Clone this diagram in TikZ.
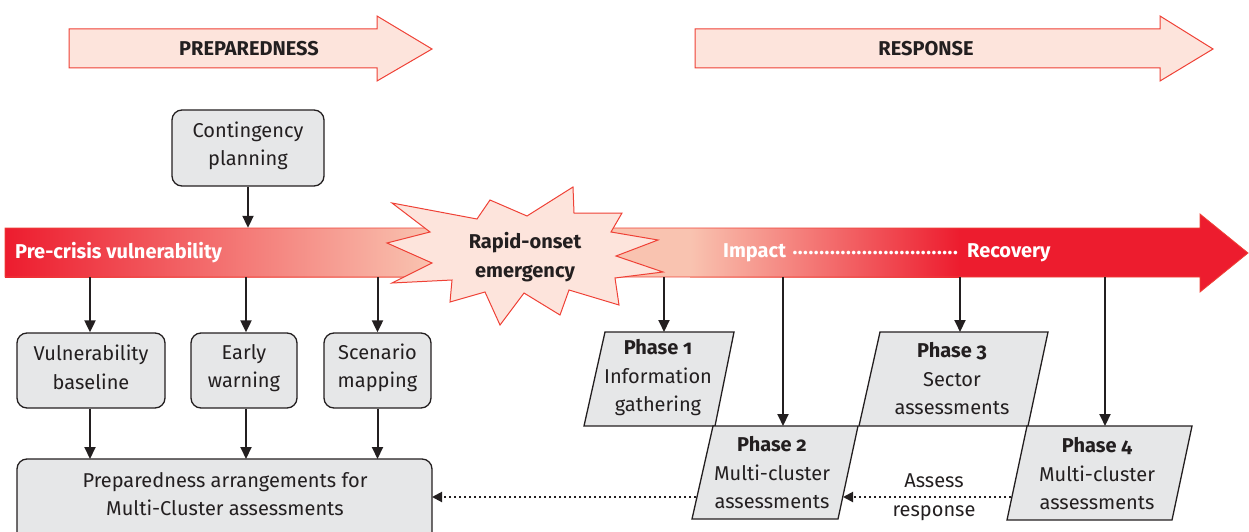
\documentclass[tikz,border=0pt]{standalone}
\usepackage{fontspec}
\setmainfont{Fira Sans}[Numbers=OldStyle]
\usetikzlibrary{arrows.meta}
\definecolor{myred}{HTML}{ED1C2E}
\definecolor{pinkfill}{HTML}{FDE4DC}
\definecolor{pale}{HTML}{F9C3B0}
\definecolor{boxgrey}{HTML}{E6E7E8}
\definecolor{ink}{HTML}{231F20}
\definecolor{edge}{HTML}{EF4136}
\begin{document}
\begin{tikzpicture}[x=1pt,y=-1pt,
 font=\fontsize{20}{28.5}\selectfont,
 txt/.style={text=ink, align=center, inner sep=0pt},
 rbox/.style={draw=ink, line width=1.3pt, fill=boxgrey, rounded corners=10pt, inner sep=0pt},
 arr/.style={draw=ink, line width=2pt, -{Triangle[width=11pt,length=12pt]}},
 dotarr/.style={draw=ink, line width=2pt, dash pattern=on 2pt off 3pt, -{Triangle[width=10pt,length=10pt]}},
 banner/.style={draw=edge, line width=1pt, fill=pinkfill},
 bandtext/.style={text=white, font=\fontsize{20}{24}\selectfont\bfseries, inner sep=0pt, anchor=west},
 para/.style={draw=ink, line width=1.3pt, fill=boxgrey},
 head/.style={text=ink, font=\fontsize{20}{24}\selectfont\bfseries, inner sep=0pt},
]
\useasboundingbox (0,0) rectangle (1249,532);

% top banners
\draw[banner] (69,29) -- (377,29) -- (377,16) -- (432,49) -- (377,81) -- (377,68) -- (69,68) -- cycle;
\node[head] (prep) at (249,49) {PREPAREDNESS};
\draw[banner] (695,29) -- (1160,29) -- (1160,16) -- (1213,49) -- (1160,81) -- (1160,68) -- (695,68) -- cycle;
\node[head] (resp) at (926,49) {RESPONSE};

% main band
\shade[left color=myred, right color=pale] (5,228) rectangle (430,277);
\fill[pale] (429,228) rectangle (691,277);
\shade[left color=pale, right color=myred] (690,228) rectangle (960,277);
\fill[myred] (959,228) -- (1200,228) -- (1200,214) -- (1248,253) -- (1200,292) -- (1200,277) -- (959,277) -- cycle;
\draw[edge, line width=0.8pt] (5,228) -- (1200,228) -- (1200,214) -- (1248,253) -- (1200,292) -- (1200,277) -- (5,277) -- cycle;
\node[inner sep=0pt, minimum width=1195pt, minimum height=49pt] (band) at (602.5,252.5) {};

\node[bandtext] (pre) at (15,253) {Pre-crisis vulnerability};
\node[bandtext] (imp) at (723,253) {Impact};
\node[bandtext] (dots) at (792,253) {\hbox to 166pt{\xleaders\hbox to 5.2pt{\hss.\hss}\hfill}};
\node[bandtext] (rec) at (967,253) {Recovery};

% starburst
\draw[edge, line width=1pt, fill=pinkfill] (392,203) -- (477,219) -- (490,200) -- (527,216) -- (573,187) -- (574,213) -- (622,213) -- (611,232) -- (658,240) -- (616,256) -- (663,272) -- (615,278) -- (619,305) -- (569,290) -- (560,315) -- (524,293) -- (500,325) -- (485,292) -- (450,302) -- (452,280) -- (392,283) -- (432,263) -- (387,243) -- (430,232) -- cycle;
\node[head, align=center, font=\fontsize{20}{28.5}\selectfont\bfseries] (rapid) at (525,257) {Rapid-onset\\emergency};

% preparedness boxes
\node[rbox, minimum width=152pt, minimum height=76pt] (cp) at (248,148) {};
\node[txt] (cpt) at (248,146) {Contingency\\planning};
\node[rbox, minimum width=148pt, minimum height=75pt] (vb) at (91,370.5) {};
\node[txt] (vbt) at (91,367.5) {Vulnerability\\baseline};
\node[rbox, minimum width=106pt, minimum height=75pt] (ew) at (244,370.5) {};
\node[txt] (ewt) at (244,368) {Early\\warning};
\node[rbox, minimum width=107pt, minimum height=75pt] (sm) at (377.5,370.5) {};
\node[txt] (smt) at (377.5,368) {Scenario\\mapping};
\draw[draw=ink, line width=1.3pt, fill=boxgrey, rounded corners=10pt] (17,459) rectangle (432,560);
\node[txt] (pa) at (225,494) {Preparedness arrangements for\\Multi-Cluster assessments};
\coordinate (pain) at (432,497);

\draw[arr] (cp.south) -- (cp.south |- band.north);
\draw[arr] ([xshift=-1pt]vb.north |- band.south) -- ([xshift=-1pt]vb.north);
\draw[arr] ([xshift=2pt]ew.north |- band.south) -- ([xshift=2pt]ew.north);
\draw[arr] (sm.north |- band.south) -- (sm.north);
\draw[arr] ([xshift=-1pt]vb.south) -- ([xshift=-1pt]vb.south |- 0,459);
\draw[arr] ([xshift=2pt]ew.south) -- ([xshift=2pt]ew.south |- 0,459);
\draw[arr] (sm.south) -- (sm.south |- 0,459);

% phases
\draw[para] (605,332) -- (734,332) -- (715,426) -- (584,426) -- cycle;
\node[txt] (p1) at (658,378) {\textbf{Phase 1}\\Information\\gathering};
\draw[para] (880,332) -- (1048,332) -- (1028,426) -- (859,426) -- cycle;
\node[txt] (p3) at (952,379) {\textbf{Phase 3}\\Sector\\assessments};
\draw[para] (713,426) -- (858,426) -- (838,519) -- (692,519) -- cycle;
\node[txt] (p2) at (772,473) {\textbf{Phase 2}\\Multi-cluster\\assessments};
\draw[para] (1027,426) -- (1192,426) -- (1172,520) -- (1007,520) -- cycle;
\node[txt] (p4) at (1097,474) {\textbf{Phase 4}\\Multi-cluster\\assessments};

\coordinate (p1in) at (664,332);
\coordinate (p2in) at (783,426);
\coordinate (p3in) at (960,332);
\coordinate (p4in) at (1105,426);
\draw[arr] (p1in |- band.south) -- (p1in);
\draw[arr] (p2in |- band.south) -- (p2in);
\draw[arr] (p3in |- band.south) -- (p3in);
\draw[arr] (p4in |- band.south) -- (p4in);

\coordinate (p4out) at (1011,497);
\coordinate (p2in2) at (843,497);
\coordinate (p2out) at (696,497);
\draw[dotarr] (p4out) -- (p2in2);
\draw[dotarr] (p2out) -- (pain);
\node[txt, font=\fontsize{20}{29}\selectfont] (assess) at (934,497) {Assess\\response};
\end{tikzpicture}
\end{document}
